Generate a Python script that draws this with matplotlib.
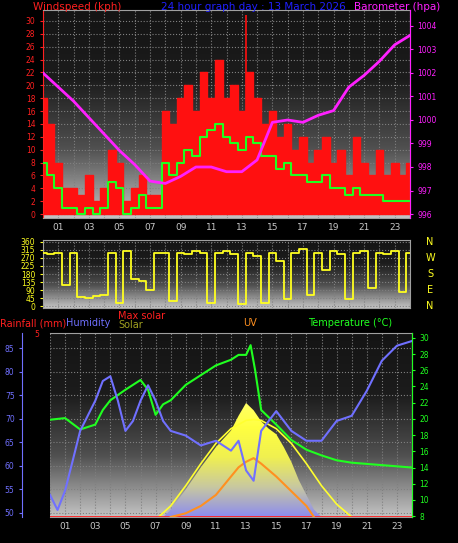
import numpy as np
import matplotlib.pyplot as plt
from matplotlib.colors import LinearSegmentedColormap

# === Data ===
t_half = np.arange(0, 24.5, 0.5)
gust = [18, 14, 8, 4, 4, 3, 6, 2, 4, 10, 8, 2, 4, 6, 3, 3, 16, 14, 18, 20, 16, 22, 18, 24, 18,
        20, 16, 22, 18, 14, 16, 12, 14, 10, 12, 8, 10, 12, 8, 10, 6, 12, 8, 6, 10, 6, 8, 6, 8]
avg_wind = [8, 6, 4, 1, 1, 0, 1, 0, 1, 5, 4, 0, 1, 3, 1, 1, 8, 6, 8, 10, 9, 12, 13, 14, 12,
            11, 10, 12, 11, 9, 9, 7, 8, 6, 6, 5, 5, 6, 4, 4, 3, 4, 3, 3, 3, 2, 2, 2, 2]
spike_t, spike_v = 13.3, 31

t_hour = np.arange(0, 25)
baro = [1002.0, 1001.4, 1000.8, 1000.1, 999.4, 998.7, 998.1, 997.4, 997.3, 997.6, 998.0, 998.0,
        997.8, 997.8, 998.3, 999.9, 1000.0, 999.9, 1000.2, 1000.4, 1001.4, 1001.9, 1002.5, 1003.2, 1003.6]

wdir = [300, 290, 300, 120, 300, 50, 45, 55, 60, 300, 20, 310, 150, 140, 90, 300, 300, 30, 300, 290,
        310, 300, 20, 300, 310, 290, 10, 300, 280, 20, 300, 250, 40, 300, 320, 60, 300, 200, 310, 290,
        40, 300, 310, 100, 300, 290, 310, 80, 300]

hum_t = [0, 0.5, 1, 1.5, 2, 3, 3.5, 4, 4.5, 5, 5.5, 6, 6.5, 7, 7.5, 8, 9, 10, 11, 12, 12.5, 13, 13.5,
         14, 15, 16, 17, 18, 19, 20, 21, 22, 23, 24]
hum = [53.8, 50.6, 54.7, 61, 67.4, 73.8, 78, 79, 73.8, 67.4, 69.5, 73.8, 77.1, 73.8, 69.5, 67.4, 66.4,
       64.3, 65.3, 63.2, 65.3, 59, 56.8, 67.4, 71.6, 67.4, 65.3, 65.3, 69.5, 70.6, 75.9, 82.3, 85.5, 86.5]

temp_t = [0, 1, 2, 3, 3.5, 4, 5, 6, 6.5, 7, 7.5, 8, 9, 10, 11, 12, 12.5, 13, 13.3, 13.6, 14, 15, 16,
          17, 18, 19, 20, 22, 24]
temp = [19.9, 20.1, 18.7, 19.3, 21.1, 22.3, 23.6, 24.8, 23.6, 20.5, 21.8, 22.3, 24.2, 25.4, 26.6, 27.3,
        27.9, 27.9, 29.1, 26.0, 21.1, 19.3, 17.4, 16.2, 15.5, 14.9, 14.6, 14.3, 14.0]

maxsol_t = [7.2, 8, 9, 10, 11, 12, 13, 13.5, 14, 15, 16, 17, 18, 19, 20]
maxsol = [0, 60, 170, 290, 400, 480, 525, 530, 525, 480, 400, 290, 170, 70, 0]
sol_t = [7.5, 8, 9, 10, 11, 12, 12.5, 13, 13.5, 14, 14.5, 15, 15.5, 16, 16.5, 17, 17.5, 18]
sol = [0, 40, 150, 270, 380, 470, 550, 620, 580, 520, 480, 450, 380, 300, 200, 120, 40, 0]
uv_t = [8, 9, 10, 11, 12, 12.5, 13, 13.5, 14, 15, 16, 17, 17.5]
uv = [0, 0.4, 1.2, 2.4, 4.4, 5.4, 6.0, 6.4, 5.8, 4.4, 2.8, 1.2, 0]

W, H = 458, 543
fig = plt.figure(figsize=(W / 100, H / 100), dpi=100, facecolor='black')


def rect(x0, y0, x1, y1):
    return [x0 / W, 1 - y1 / H, (x1 - x0) / W, (y1 - y0) / H]


bg_cmap = LinearSegmentedColormap.from_list('bg', ['#141414', '#1c1c1c', '#505050', '#c4c4c4'])


def style(ax):
    ax.set_facecolor('black')
    grad = np.linspace(0, 1, 256).reshape(-1, 1)
    ax.imshow(grad, extent=[0, 1, 0, 1], transform=ax.transAxes, aspect='auto', cmap=bg_cmap,
              zorder=0)
    ax.set_xlim(0, 24)
    ax.set_xticks(range(0, 25))
    ax.set_xticklabels([])
    ax.tick_params(axis='x', length=0)
    ax.grid(True, color='#808080', linestyle=':', linewidth=0.8)
    for s in ax.spines.values():
        s.set_color('#a0a0a0')


def xlabels(ax):
    for h in range(1, 24, 2):
        ax.text(h, -0.025, "%02d" % h, transform=ax.get_xaxis_transform(), color='#c8c8c8',
                fontsize=6.5, ha='center', va='top')


# === Panel 1: wind + barometer ===
ax1 = fig.add_axes(rect(43, 10, 410, 218))
style(ax1)
ax1.fill_between(t_half, 0, gust, step='mid', color='#ff1010', zorder=2)
ax1.vlines(spike_t, 0, spike_v, color='#ff1010', lw=1.2, zorder=2)
ax1.step(t_half, avg_wind, where='mid', color='#20ff20', lw=1.5, zorder=3)
ax1.set_ylim(-0.6, 31.7)
ax1.set_yticks(range(0, 31, 2))
ax1.tick_params(axis='y', colors='#ff2020', labelsize=5.5, length=2)
ax1.spines['left'].set_color('#ff2020')
xlabels(ax1)
axb = ax1.twinx()
axb.plot(t_hour, baro, color='#ff20ff', lw=2, zorder=4)
axb.set_ylim(995.83, 1004.68)
axb.set_yticks(range(996, 1005))
axb.tick_params(axis='y', colors='#ff20ff', labelsize=5.5, length=2)
axb.spines['right'].set_color('#ff20ff')
for s in ['left', 'top', 'bottom']:
    axb.spines[s].set_visible(False)

fig.text(33 / W, 1 - 7 / H, "Windspeed (kph)", color='#ff2020', fontsize=7.5, va='center')
fig.text(253 / W, 1 - 7 / H, "24 hour graph day : 13 March 2026", color='#2020ff', fontsize=7.5,
         va='center', ha='center')
fig.text(440 / W, 1 - 7 / H, "Barometer (hpa)", color='#ff20ff', fontsize=7.5, va='center', ha='right')

# === Panel 2: wind direction ===
ax2 = fig.add_axes(rect(43, 240, 410, 308))
style(ax2)
ax2.step(t_half, wdir, where='mid', color='#ffff20', lw=1.3, zorder=3)
ax2.set_ylim(-10, 370)
ax2.set_yticks(range(0, 361, 45))
ax2.tick_params(axis='y', colors='#ffff20', labelsize=5.5, length=2)
for v, lab in zip([360, 270, 180, 90, 0], ['N', 'W', 'S', 'E', 'N']):
    ax2.text(1.055, v, lab, transform=ax2.get_yaxis_transform(), color='#ffff20', fontsize=7,
             ha='center', va='center')

# === Panel 3: humidity, temperature, solar, UV ===
ax3 = fig.add_axes(rect(50, 333, 412, 517))
style(ax3)
ax3.set_ylim(49.1, 88.2)
ax3.set_yticks(range(50, 86, 5))
ax3.tick_params(axis='y', colors='#7070ff', labelsize=5.5, length=2)
ax3.spines['left'].set_position(('outward', 20))
ax3.spines['left'].set_color('#7070ff')
xlabels(ax3)
ax3.text(-0.03, 0.99, "5", transform=ax3.transAxes, color='#ff2020', fontsize=5.5, ha='right', va='center')

axs = ax3.twinx()
axs.set_ylim(0, 1000)
axs.set_yticks([])
poly = axs.fill_between(sol_t, 0, sol, color='none', zorder=1)
sol_cmap = LinearSegmentedColormap.from_list('sol', ['#8c8cf0', '#c8c8a0', '#f0f050', '#ffff40', '#ffff70'])
im = axs.imshow(np.linspace(0, 1, 256).reshape(-1, 1), extent=[7, 18.5, 0, 650], origin='lower',
                aspect='auto', cmap=sol_cmap, zorder=1)
im.set_clip_path(poly.get_paths()[0], transform=axs.transData)
axs.set_xlim(0, 24)
axs.set_ylim(0, 1000)
axs.plot(maxsol_t, maxsol, color='#ffff30', lw=1.2, zorder=2)
axs.plot([0, 24], [2, 2], color='#ff2020', lw=2, zorder=5)
for s in ['left', 'top', 'bottom', 'right']:
    axs.spines[s].set_visible(False)

axu = ax3.twinx()
axu.set_ylim(0, 20)
axu.set_yticks([])
axu.plot(uv_t, uv, color='#ff9020', lw=1.5, zorder=3)
for s in ['left', 'top', 'bottom', 'right']:
    axu.spines[s].set_visible(False)

axt = ax3.twinx()
axt.set_ylim(7.9, 30.6)
axt.set_yticks(range(8, 31, 2))
axt.tick_params(axis='y', colors='#20ff20', labelsize=5.5, length=2)
axt.spines['right'].set_color('#20ff20')
for s in ['left', 'top', 'bottom']:
    axt.spines[s].set_visible(False)
axt.plot(temp_t, temp, color='#20ff20', lw=1.5, zorder=4)

axh = ax3.twinx()
axh.set_ylim(49.1, 88.2)
axh.set_yticks([])
axh.plot(hum_t, hum, color='#7070ff', lw=1.5, zorder=4)
for s in ['left', 'top', 'bottom', 'right']:
    axh.spines[s].set_visible(False)

fig.text(0, 1 - 323 / H, "Rainfall (mm)", color='#ff2020', fontsize=7, va='center')
fig.text(66 / W, 1 - 323 / H, "Humidity", color='#7070ff', fontsize=7, va='center')
fig.text(118 / W, 1 - 316 / H, "Max solar", color='#ff2020', fontsize=7, va='center')
fig.text(118 / W, 1 - 325 / H, "Solar", color='#a0a020', fontsize=7, va='center')
fig.text(243 / W, 1 - 323 / H, "UV", color='#ff9020', fontsize=7, va='center')
fig.text(308 / W, 1 - 323 / H, "Temperature (°C)", color='#20ff20', fontsize=7, va='center')

fig.savefig('out.png', dpi=100, facecolor='black')
